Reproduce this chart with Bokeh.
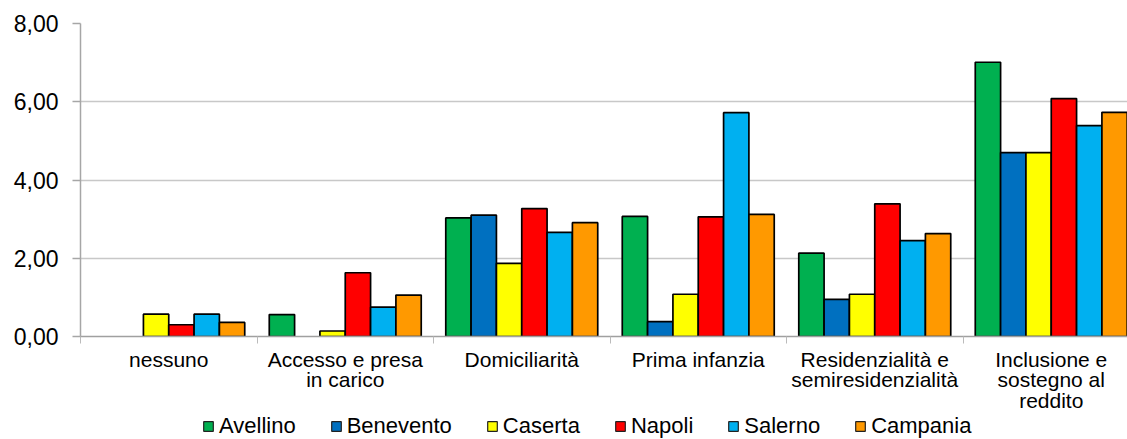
import numpy as np
from bokeh.plotting import figure
from bokeh.layouts import column
from bokeh.models import ColumnDataSource, Range1d, FixedTicker, Legend, LegendItem
from bokeh.transform import dodge
from bokeh.embed import file_html
from bokeh.resources import INLINE

# ---- data ----
categories = ["nessuno", "Accesso e presa\nin carico", "Domiciliarità", "Prima infanzia",
              "Residenzialità e\nsemiresidenzialità", "Inclusione e\nsostegno al\nreddito"]
series = ["Avellino", "Benevento", "Caserta", "Napoli", "Salerno", "Campania"]
colors = ["#00B050", "#0070C0", "#FFFF00", "#FF0000", "#00B0F0", "#FF9900"]
avellino = [np.nan, 0.56, 3.03, 3.07, 2.13, 7.01]
benevento = [np.nan, np.nan, 3.10, 0.38, 0.95, 4.70]
caserta = [0.57, 0.14, 1.87, 1.08, 1.08, 4.70]
napoli = [0.30, 1.63, 3.27, 3.06, 3.39, 6.08]
salerno = [0.57, 0.75, 2.66, 5.72, 2.45, 5.39]
campania = [0.36, 1.06, 2.91, 3.12, 2.63, 5.73]
y_ticks = [0, 2, 4, 6, 8]
y_tick_labels = ["0,00", "2,00", "4,00", "6,00", "8,00"]

values = [avellino, benevento, caserta, napoli, salerno, campania]
centers = np.arange(len(categories)) + 0.5
data = {"x": centers}
for name, vals in zip(series, values):
    data[name] = np.array(vals, dtype=float)
src = ColumnDataSource(data)

FONT = "Liberation Sans"
W = 1127

p = figure(width=W, height=414, output_backend="svg", toolbar_location=None,
           x_range=Range1d(0, 1047 / 176.5), y_range=Range1d(0, 8),
           min_border_left=80, min_border_right=0, min_border_top=23, min_border_bottom=74)
p.outline_line_color = None
p.background_fill_color = "white"
p.border_fill_color = "white"

bar_w = 0.1435
for i, (name, col) in enumerate(zip(series, colors)):
    off = (i - (len(series) - 1) / 2) * bar_w
    p.vbar(x=dodge("x", off, range=p.x_range), top=name, width=bar_w, source=src,
           fill_color=col, line_color="black", line_width=1.7)

# y axis
p.yaxis.ticker = FixedTicker(ticks=y_ticks)
p.yaxis.major_label_overrides = {t: l for t, l in zip(y_ticks, y_tick_labels)}
p.yaxis.axis_line_color = "#A6A6A6"
p.yaxis.axis_line_width = 1.5
p.yaxis.major_tick_line_color = "#A6A6A6"
p.yaxis.major_tick_line_width = 1.5
p.yaxis.major_tick_out = 8
p.yaxis.major_tick_in = 0
p.yaxis.minor_tick_line_color = None
p.yaxis.major_label_standoff = 14
p.yaxis.major_label_text_font = FONT
p.yaxis.major_label_text_font_size = "23px"
p.yaxis.major_label_text_color = "#000000"

p.ygrid.ticker = FixedTicker(ticks=y_ticks)
p.ygrid.grid_line_color = "#C8C8C8"
p.ygrid.grid_line_width = 1.5
p.xgrid.visible = False

# x axis
p.xaxis.ticker = FixedTicker(ticks=list(centers), minor_ticks=list(range(len(categories) + 1)))
p.xaxis.major_label_overrides = {float(c): lab for c, lab in zip(centers, categories)}
p.xaxis.axis_line_color = "#A0A0A0"
p.xaxis.axis_line_width = 1.5
p.xaxis.major_tick_line_color = None
p.xaxis.major_tick_out = 0
p.xaxis.major_tick_in = 0
p.xaxis.minor_tick_line_color = "#BBBBBB"
p.xaxis.minor_tick_line_width = 1
p.xaxis.minor_tick_out = 7
p.xaxis.minor_tick_in = 0
p.xaxis.major_label_standoff = 4
p.xaxis.major_label_text_font = FONT
p.xaxis.major_label_text_font_size = "21px"
p.xaxis.major_label_text_color = "#000000"
p.xaxis.major_label_text_line_height = 0.9

# legend strip (separate figure below the chart; its renderers are hidden)
lf = figure(width=W, height=25, output_backend="svg", toolbar_location=None,
            x_range=Range1d(0, 1), y_range=Range1d(0, 1), min_border=0)
lf.axis.visible = False
lf.grid.visible = False
lf.outline_line_color = None
lf.background_fill_color = "white"
lf.border_fill_color = "white"
items = []
for name, col in zip(series, colors):
    r = lf.vbar(x="x", top=name, width=0.1, source=src, fill_color=col,
                line_color="#222222", line_width=1.2, visible=False)
    items.append(LegendItem(label=name, renderers=[r]))
legend = Legend(items=items, orientation="horizontal", location=(122, 0),
                label_text_font=FONT, label_text_font_size="22px", label_text_color="#000000",
                glyph_width=12, glyph_height=12, label_standoff=5, spacing=34,
                padding=0, margin=0, border_line_color=None, background_fill_alpha=0,
                click_policy="none")
lf.add_layout(legend, "center")

layout = column(p, lf, spacing=0)
open("out.html", "w").write(file_html(layout, INLINE))
